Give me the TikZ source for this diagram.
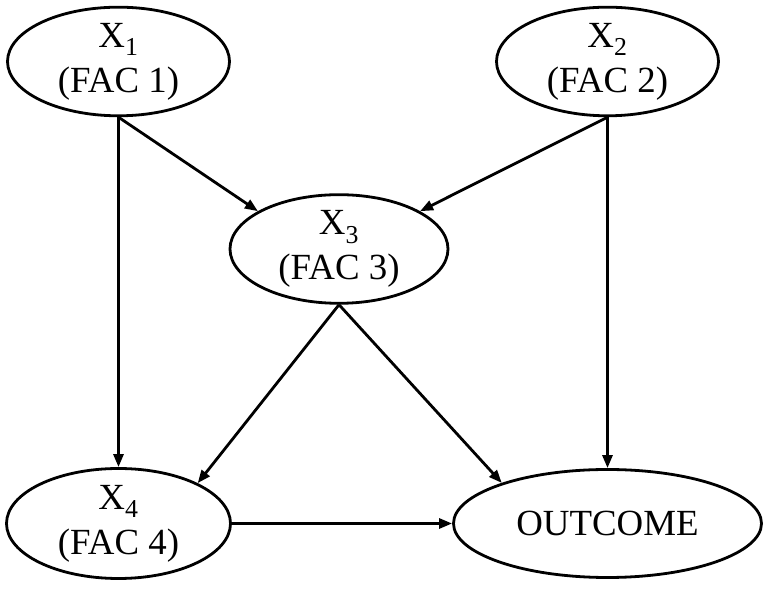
\documentclass[tikz,border=0pt]{standalone}
\usepackage{fontspec}
\setmainfont{Liberation Serif}
\usetikzlibrary{shapes.geometric,arrows.meta}
\begin{document}
\begin{tikzpicture}[x=1bp,y=1bp,
  ell/.style={ellipse,draw,line width=2.8bp,inner sep=0pt,align=center,
    font=\fontsize{37}{45}\selectfont},
  conn/.style={line width=2.8bp,-{Triangle[length=13bp,width=10bp]}}]
\useasboundingbox (0,0) rectangle (765,590);
\node[ell,minimum width=222bp,minimum height=107bp] (x1) at (118.5,528.5) {X\textsubscript{1}\\(FAC 1)};
\node[ell,minimum width=222bp,minimum height=107bp] (x2) at (607.5,528.5) {X\textsubscript{2}\\(FAC 2)};
\node[ell,minimum width=218bp,minimum height=108bp] (x3) at (339,341) {X\textsubscript{3}\\(FAC 3)};
\node[ell,minimum width=224bp,minimum height=110bp] (x4) at (118.5,66.5) {X\textsubscript{4}\\(FAC 4)};
\node[ell,minimum width=308bp,minimum height=108bp] (out) at (607.5,66.5) {OUTCOME};
\draw[conn] (x1.south) -- (x3.155);
\draw[conn] (x2.south) -- (x3.25);
\draw[conn] (x1.south) -- (x4.north);
\draw[conn] (x2.south) -- (out.north);
\draw[conn] (x3.south) -- (x4.27);
\draw[conn] (x3.south) -- (out.159);
\draw[conn] (x4.east) -- (out.west);
\end{tikzpicture}
\end{document}
